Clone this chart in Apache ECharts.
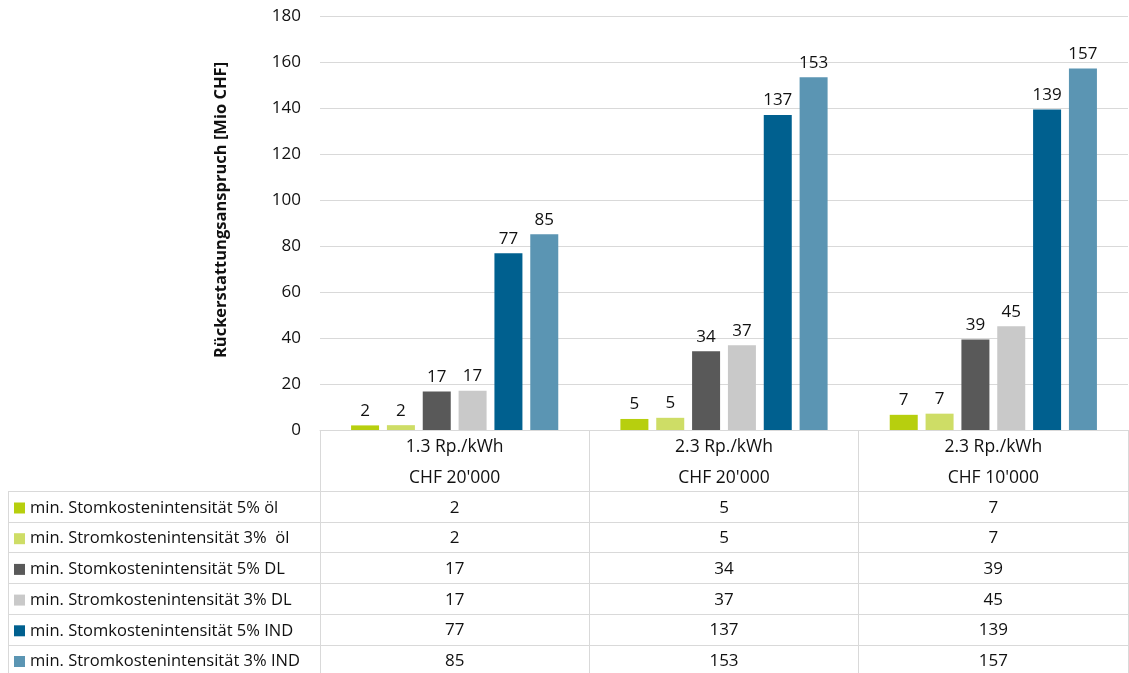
<!DOCTYPE html>
<html>
<head>
<meta charset="utf-8">
<script src="https://cdn.jsdelivr.net/npm/echarts@6/dist/echarts.min.js"></script>
<style>html,body{margin:0;padding:0;background:#fff}#c{width:1129px;height:673px}</style>
</head>
<body>
<div id="c"></div>
<script>
// ---- data ----
var categories = ["1.3 Rp./kWh\nCHF 20'000", "2.3 Rp./kWh\nCHF 20'000", "2.3 Rp./kWh\nCHF 10'000"];
var seriesNames = [
  'min. Stomkostenintensität 5% öl',
  'min. Stromkostenintensität 3%  öl',
  'min. Stomkostenintensität 5% DL',
  'min. Stromkostenintensität 3% DL',
  'min. Stomkostenintensität 5% IND',
  'min. Stromkostenintensität 3% IND'
];
var s5Oel = [2.0, 4.8, 6.6];
var s3Oel = [2.1, 5.3, 7.1];
var s5DL  = [16.7, 34.2, 39.3];
var s3DL  = [17.1, 36.8, 45.1];
var s5IND = [76.8, 137.0, 139.4];
var s3IND = [85.1, 153.4, 157.2];
var seriesValues = [s5Oel, s3Oel, s5DL, s3DL, s5IND, s3IND];
var colors = ['#b7cf0e', '#cedd66', '#595959', '#c9c9c9', '#00608f', '#5b95b3'];
var yTicks = {min: 0, max: 180, interval: 20};
var yTitle = 'Rückerstattungsanspruch [Mio CHF]';

// ---- layout ----
var FONT = 'Open Sans';
var W = 1129, H = 673;
var gridLeft = 320, gridRight = 1, gridTop = 16, axisY = 430;
var headerBottom = 491, rowH = 30.7, tableLeft = 8;
var lineColor = '#d9d9d9';
var textColor = '#111';

var series = seriesValues.map(function (vals, i) {
  return {
    name: seriesNames[i], type: 'bar', xAxisIndex: 0, yAxisIndex: 0,
    data: vals, barWidth: 28, barGap: '28%',
    itemStyle: {color: colors[i]},
    label: {show: true, position: 'top', distance: 6, color: textColor, fontFamily: FONT, fontSize: 17,
            formatter: function (p) { return Math.round(p.value); }}
  };
});

var xAxes = [{
  type: 'category', data: categories, gridIndex: 0, position: 'bottom',
  axisLine: {show: true, lineStyle: {color: lineColor}},
  axisTick: {show: true, interval: 0, length: H - axisY, lineStyle: {color: lineColor}},
  axisLabel: {interval: 0, margin: 2, color: textColor, fontFamily: FONT, fontSize: 17.5, lineHeight: 31, verticalAlign: 'top'}
}];
seriesValues.forEach(function (vals, i) {
  xAxes.push({
    type: 'category', data: categories, gridIndex: 0, position: 'bottom',
    offset: headerBottom + (i + 0.5) * rowH - axisY + 1.5,
    axisLine: {show: false}, axisTick: {show: false},
    axisLabel: {interval: 0, margin: 0, color: textColor, fontFamily: FONT, fontSize: 17, verticalAlign: 'middle',
      formatter: (function (v) { return function (val, idx) { return String(Math.round(v[idx])); }; })(vals)}
  });
});

var graphics = [];
for (var r = 0; r <= seriesValues.length; r++) {
  var y = Math.round(headerBottom + r * rowH) + 0.5;
  if (y < H) graphics.push({type: 'line', silent: true, shape: {x1: tableLeft, y1: y, x2: W - gridRight, y2: y}, style: {stroke: lineColor, lineWidth: 1}});
}
graphics.push({type: 'line', silent: true, shape: {x1: tableLeft + 0.5, y1: headerBottom, x2: tableLeft + 0.5, y2: H}, style: {stroke: lineColor, lineWidth: 1}});

var chart = echarts.init(document.getElementById('c'), null, {renderer: 'canvas'});
chart.setOption({
  animation: false,
  backgroundColor: '#fff',
  color: colors,
  grid: {left: gridLeft, right: gridRight, top: gridTop, bottom: H - axisY, containLabel: false},
  legend: {
    orient: 'vertical', left: tableLeft + 6, top: headerBottom + 6, padding: 0, height: 200,
    icon: 'rect', itemWidth: 11, itemHeight: 11, itemGap: rowH - 22,
    data: seriesNames, selectedMode: false,
    textStyle: {fontFamily: FONT, fontSize: 16.5, color: textColor, lineHeight: 22, padding: [0, 0, 0, 0]}
  },
  xAxis: xAxes,
  yAxis: {
    type: 'value', min: yTicks.min, max: yTicks.max, interval: yTicks.interval,
    name: yTitle, nameLocation: 'middle', nameRotate: 90, nameGap: 90,
    nameTextStyle: {fontFamily: FONT, fontSize: 16.5, fontWeight: 'bold', color: textColor, padding: [0, 0, 0, 26]},
    axisLine: {show: false}, axisTick: {show: false},
    axisLabel: {margin: 19, color: textColor, fontFamily: FONT, fontSize: 17},
    splitLine: {lineStyle: {color: lineColor}}
  },
  graphic: graphics,
  series: series
});
</script>
</body>
</html>
